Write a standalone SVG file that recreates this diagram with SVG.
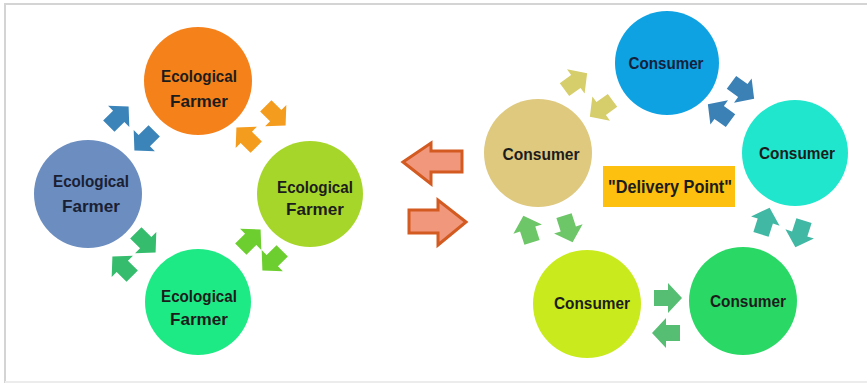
<svg xmlns="http://www.w3.org/2000/svg" width="867" height="387" viewBox="0 0 867 387">
  <defs>
    <!-- stubby block arrow pointing along +x, centred on the origin -->
    <path id="blk" d="M -13,-8 L 1,-8 L 1,-15 L 15,0 L 1,15 L 1,8 L -13,8 Z"/>
    <style>
      .lbl { font-family: "Liberation Sans", Arial, sans-serif; font-weight: bold; font-size: 17px; fill: #1c1c1c; text-anchor: middle; }
      .big { fill: #F0977C; stroke: #D35A20; stroke-width: 3; stroke-linejoin: miter; }
      .frame { stroke: #d4d4d4; stroke-width: 2; fill: none; }
    </style>
  </defs>

  <rect x="0" y="0" width="867" height="387" fill="#ffffff"/>
  <path class="frame" d="M 5,383 L 5,4 L 867,4"/>
  <path d="M 5,382 L 867,382" stroke="#ececec" stroke-width="2" fill="none"/>

  <!-- farmer ring -->
  <g id="farmer-top">
    <circle cx="198" cy="81" r="54" fill="#F5811B"/>
    <text class="lbl" x="199" y="82" textLength="76" lengthAdjust="spacingAndGlyphs">Ecological</text>
    <text class="lbl" x="199" y="107" textLength="58" lengthAdjust="spacingAndGlyphs">Farmer</text>
  </g>
  <g id="farmer-left">
    <circle cx="88" cy="194" r="54" fill="#6B8DBF"/>
    <text class="lbl" x="91" y="187" textLength="76" lengthAdjust="spacingAndGlyphs" style="fill:#1a2033">Ecological</text>
    <text class="lbl" x="91" y="212" textLength="58" lengthAdjust="spacingAndGlyphs" style="fill:#1a2033">Farmer</text>
  </g>
  <g id="farmer-right">
    <circle cx="310" cy="194" r="53" fill="#A7D62B"/>
    <text class="lbl" x="315" y="193" textLength="76" lengthAdjust="spacingAndGlyphs">Ecological</text>
    <text class="lbl" x="315" y="215" textLength="58" lengthAdjust="spacingAndGlyphs">Farmer</text>
  </g>
  <g id="farmer-bottom">
    <circle cx="198" cy="302" r="53" fill="#1EEA85"/>
    <text class="lbl" x="199" y="302" textLength="76" lengthAdjust="spacingAndGlyphs">Ecological</text>
    <text class="lbl" x="199" y="325" textLength="58" lengthAdjust="spacingAndGlyphs">Farmer</text>
  </g>

  <!-- consumer ring -->
  <g id="consumer-left">
    <circle cx="538" cy="153" r="54" fill="#DEC97F"/>
    <text class="lbl" x="541" y="160" textLength="77" lengthAdjust="spacingAndGlyphs">Consumer</text>
  </g>
  <g id="consumer-top">
    <circle cx="667" cy="63" r="52" fill="#0EA2E3"/>
    <text class="lbl" x="666" y="69" textLength="75" lengthAdjust="spacingAndGlyphs" style="fill:#14213a">Consumer</text>
  </g>
  <g id="consumer-right">
    <circle cx="795" cy="153" r="53" fill="#1FE6CC"/>
    <text class="lbl" x="797" y="159" textLength="76" lengthAdjust="spacingAndGlyphs">Consumer</text>
  </g>
  <g id="consumer-bottom-right">
    <circle cx="743" cy="301" r="54" fill="#2AD866"/>
    <text class="lbl" x="748" y="307" textLength="76" lengthAdjust="spacingAndGlyphs">Consumer</text>
  </g>
  <g id="consumer-bottom-left">
    <circle cx="587" cy="304" r="54" fill="#C9EB1D"/>
    <text class="lbl" x="592" y="309" textLength="76" lengthAdjust="spacingAndGlyphs">Consumer</text>
  </g>
  <g id="delivery-point">
    <rect x="603" y="166" width="132" height="41" fill="#FEC00F"/>
    <text class="lbl" x="670" y="193" textLength="124" lengthAdjust="spacingAndGlyphs" style="font-size:18px">"Delivery Point"</text>
  </g>

  <g id="connectors">
    <!-- farmer ring arrow pairs -->
    <use href="#blk" fill="#3A84B9" transform="translate(118,117) rotate(-45)"/>
    <use href="#blk" fill="#3A84B9" transform="translate(145,140) rotate(135)"/>
    <use href="#blk" fill="#F49C1E" transform="translate(275,115) rotate(45)"/>
    <use href="#blk" fill="#F49C1E" transform="translate(247,138) rotate(-135)"/>
    <use href="#blk" fill="#6DCF2F" transform="translate(273,260) rotate(135)"/>
    <use href="#blk" fill="#6DCF2F" transform="translate(250,240) rotate(-45)"/>
    <use href="#blk" fill="#35BD6D" transform="translate(123,267) rotate(-135)"/>
    <use href="#blk" fill="#35BD6D" transform="translate(145,242) rotate(45)"/>

    <!-- consumer ring arrow pairs -->
    <use href="#blk" fill="#D6CE6A" transform="translate(575,82) rotate(-36)"/>
    <use href="#blk" fill="#D6CE6A" transform="translate(602,108) rotate(144)"/>
    <use href="#blk" fill="#3B81B6" transform="translate(742,90) rotate(36)"/>
    <use href="#blk" fill="#3B81B6" transform="translate(720,113) rotate(-144)"/>
    <use href="#blk" fill="#41B8A4" transform="translate(800,233) rotate(108)"/>
    <use href="#blk" fill="#41B8A4" transform="translate(765,222) rotate(-72)"/>
    <use href="#blk" fill="#56BE73" transform="translate(667,333) rotate(180)"/>
    <use href="#blk" fill="#56BE73" transform="translate(667,298) rotate(0)"/>
    <use href="#blk" fill="#6DC667" transform="translate(528,230) rotate(-108)"/>
    <use href="#blk" fill="#6DC667" transform="translate(568,228) rotate(72)"/>

    <!-- exchange between the two rings -->
    <path class="big" d="M 403,162 L 431,143 L 431,151 L 462,151 L 462,172 L 431,172 L 431,184 Z"/>
    <path class="big" d="M 466,222 L 438,200 L 438,210 L 409,210 L 409,233 L 438,233 L 438,245 Z"/>
  </g>
</svg>
